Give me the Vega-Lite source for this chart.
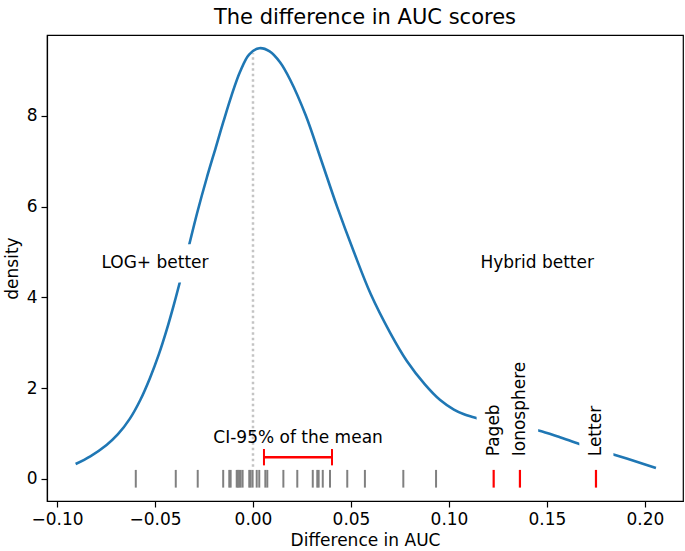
{
  "$schema": "https://vega.github.io/schema/vega-lite/v6.json",
  "width": 636,
  "height": 466,
  "autosize": {"type": "none"},
  "padding": {"left": 47, "top": 35, "right": 2, "bottom": 50},
  "title": {"text": "The difference in AUC scores", "font": "DejaVu Sans", "fontSize": 21, "fontWeight": "normal", "color": "black", "offset": 7},
  "config": {
    "font": "DejaVu Sans",
    "view": {"stroke": "black", "strokeWidth": 1.2},
    "axis": {
      "grid": false,
      "labelFont": "DejaVu Sans",
      "labelFontSize": 17,
      "labelColor": "black",
      "titleFont": "DejaVu Sans",
      "titleFontSize": 17,
      "titleFontWeight": "normal",
      "titleColor": "black",
      "tickColor": "black",
      "tickSize": 6,
      "tickWidth": 1.2,
      "domainColor": "black",
      "domainWidth": 1.2,
      "labelPadding": 4,
      "titlePadding": 5
    }
  },
  "datasets": {
    "curve": [
      {"x": -0.0905, "y": 0.33}, {"x": -0.083, "y": 0.5}, {"x": -0.0747, "y": 0.75}, {"x": -0.069, "y": 0.98},
      {"x": -0.0628, "y": 1.33}, {"x": -0.0575, "y": 1.74}, {"x": -0.0526, "y": 2.22}, {"x": -0.048, "y": 2.75},
      {"x": -0.044, "y": 3.29}, {"x": -0.0405, "y": 3.82}, {"x": -0.0376, "y": 4.29}, {"x": -0.033, "y": 5.08},
      {"x": -0.0285, "y": 5.86}, {"x": -0.0236, "y": 6.63}, {"x": -0.019, "y": 7.3}, {"x": -0.0151, "y": 7.87},
      {"x": -0.011, "y": 8.44}, {"x": -0.0066, "y": 8.97}, {"x": -0.002, "y": 9.35}, {"x": 0.0032, "y": 9.49},
      {"x": 0.0085, "y": 9.42}, {"x": 0.0138, "y": 9.18}, {"x": 0.0189, "y": 8.8}, {"x": 0.027, "y": 8.0},
      {"x": 0.035, "y": 7.0}, {"x": 0.0429, "y": 6.0}, {"x": 0.0515, "y": 5.0}, {"x": 0.06, "y": 4.08},
      {"x": 0.07, "y": 3.22}, {"x": 0.0785, "y": 2.6}, {"x": 0.0878, "y": 2.08}, {"x": 0.0955, "y": 1.74},
      {"x": 0.1025, "y": 1.53}, {"x": 0.108, "y": 1.42}, {"x": 0.1141, "y": 1.34}, {"x": 0.125, "y": 1.23},
      {"x": 0.135, "y": 1.15}, {"x": 0.1456, "y": 1.07}, {"x": 0.156, "y": 0.93}, {"x": 0.1665, "y": 0.77},
      {"x": 0.175, "y": 0.66}, {"x": 0.1839, "y": 0.54}, {"x": 0.195, "y": 0.39}, {"x": 0.2056, "y": 0.24}
    ],
    "rug": [
      {"x": -0.0598}, {"x": -0.0394}, {"x": -0.0282}, {"x": -0.0152}, {"x": -0.0121}, {"x": -0.0114},
      {"x": -0.0083}, {"x": -0.0077}, {"x": -0.007}, {"x": -0.0063}, {"x": -0.0053}, {"x": -0.0019},
      {"x": -0.0012}, {"x": -0.0002}, {"x": 0.0019}, {"x": 0.0032}, {"x": 0.0063}, {"x": 0.0073},
      {"x": 0.0155}, {"x": 0.0226}, {"x": 0.0305}, {"x": 0.0328}, {"x": 0.0335}, {"x": 0.0356},
      {"x": 0.0393}, {"x": 0.0481}, {"x": 0.0571}, {"x": 0.0767}, {"x": 0.0934}
    ],
    "highlight": [
      {"x": 0.1228, "text": "Pageb", "y": 0.5},
      {"x": 0.1362, "text": "Ionosphere", "y": 0.5},
      {"x": 0.175, "text": "Letter", "y": 0.5}
    ],
    "ci": [{"x": 0.0056}, {"x": 0.0403}],
    "boxes": [
      {"x": -0.085, "x2": -0.015, "y": 4.33, "y2": 5.17},
      {"x": 0.1141, "x2": 0.1315, "y": 0.33, "y2": 1.85},
      {"x": 0.1275, "x2": 0.1455, "y": 0.33, "y2": 2.84},
      {"x": 0.1665, "x2": 0.1839, "y": 0.33, "y2": 1.81}
    ],
    "labels": [
      {"x": -0.05, "y": 4.76, "text": "LOG+ better"},
      {"x": 0.145, "y": 4.76, "text": "Hybrid better"},
      {"x": 0.023, "y": 0.9, "text": "CI-95% of the mean"}
    ]
  },
  "layer": [
    {
      "data": {"values": [{"x": 0}]},
      "mark": {"type": "rule", "color": "#c4c4c4", "strokeWidth": 2.5, "strokeDash": [2.5, 3]},
      "encoding": {
        "x": {
          "field": "x", "type": "quantitative",
          "scale": {"domain": [-0.1051, 0.2194], "nice": false, "zero": false},
          "axis": {"title": "Difference in AUC", "values": [-0.1, -0.05, 0, 0.05, 0.1, 0.15, 0.2], "labelExpr": "replace(format(datum.value, '.2f'), '-', '\u2212')"}
        },
        "y": {
          "datum": 0.27, "type": "quantitative",
          "scale": {"domain": [-0.485, 9.78], "nice": false, "zero": false},
          "axis": {"title": "density", "values": [0, 2, 4, 6, 8], "format": "d"}
        },
        "y2": {"datum": 9.38}
      }
    },
    {
      "data": {"name": "curve"},
      "mark": {"type": "line", "color": "#1f77b4", "strokeWidth": 2.6, "interpolate": "catmull-rom"},
      "encoding": {
        "x": {"field": "x", "type": "quantitative", "title": "Difference in AUC"},
        "y": {"field": "y", "type": "quantitative", "title": "density"}
      }
    },
    {
      "data": {"name": "boxes"},
      "mark": {"type": "rect", "color": "white", "opacity": 1},
      "encoding": {
        "x": {"field": "x", "type": "quantitative", "title": "Difference in AUC"},
        "x2": {"field": "x2"},
        "y": {"field": "y", "type": "quantitative", "title": "density"},
        "y2": {"field": "y2"}
      }
    },
    {
      "data": {"name": "rug"},
      "mark": {"type": "rule", "color": "#808080", "strokeWidth": 2},
      "encoding": {
        "x": {"field": "x", "type": "quantitative", "title": "Difference in AUC"},
        "y": {"datum": -0.19, "type": "quantitative", "title": "density"},
        "y2": {"datum": 0.2}
      }
    },
    {
      "data": {"name": "highlight"},
      "mark": {"type": "rule", "color": "red", "strokeWidth": 2.2},
      "encoding": {
        "x": {"field": "x", "type": "quantitative", "title": "Difference in AUC"},
        "y": {"datum": -0.19, "type": "quantitative", "title": "density"},
        "y2": {"datum": 0.2}
      }
    },
    {
      "data": {"name": "ci"},
      "mark": {"type": "rule", "color": "red", "strokeWidth": 2.4},
      "encoding": {
        "x": {"aggregate": "min", "field": "x", "type": "quantitative", "title": "Difference in AUC"},
        "x2": {"aggregate": "max", "field": "x"},
        "y": {"datum": 0.48, "type": "quantitative", "title": "density"}
      }
    },
    {
      "data": {"name": "ci"},
      "mark": {"type": "rule", "color": "red", "strokeWidth": 2},
      "encoding": {
        "x": {"field": "x", "type": "quantitative", "title": "Difference in AUC"},
        "y": {"datum": 0.3, "type": "quantitative", "title": "density"},
        "y2": {"datum": 0.66}
      }
    },
    {
      "data": {"name": "labels"},
      "mark": {"type": "text", "font": "DejaVu Sans", "fontSize": 17, "color": "black", "align": "center", "baseline": "middle"},
      "encoding": {
        "x": {"field": "x", "type": "quantitative", "title": "Difference in AUC"},
        "y": {"field": "y", "type": "quantitative", "title": "density"},
        "text": {"field": "text"}
      }
    },
    {
      "data": {"name": "highlight"},
      "mark": {"type": "text", "font": "DejaVu Sans", "fontSize": 17, "color": "black", "align": "left", "baseline": "middle", "angle": 270},
      "encoding": {
        "x": {"field": "x", "type": "quantitative", "title": "Difference in AUC"},
        "y": {"field": "y", "type": "quantitative", "title": "density"},
        "text": {"field": "text"}
      }
    }
  ]
}
